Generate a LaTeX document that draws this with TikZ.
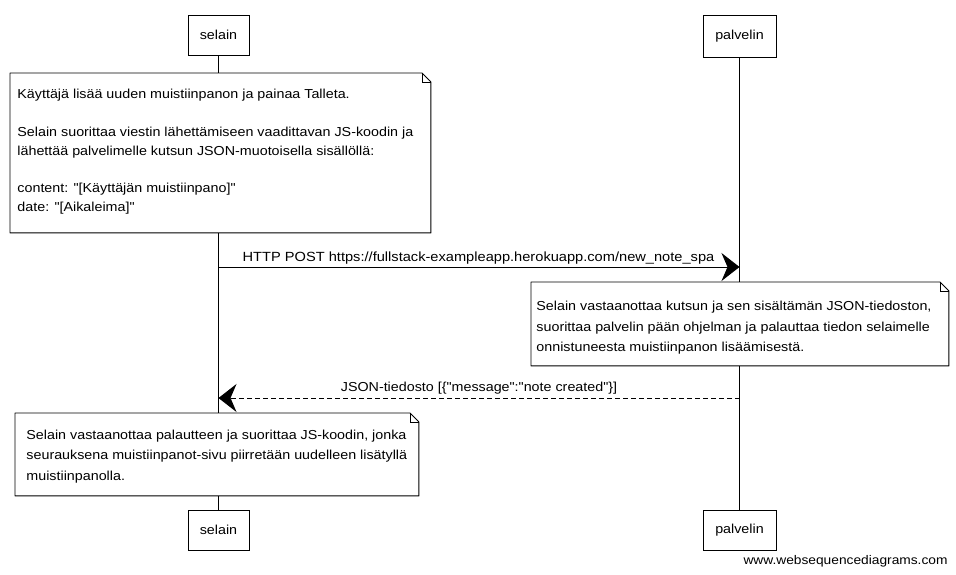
\documentclass[tikz,border=0pt]{standalone}
\usepackage{fontspec}
\setmainfont{Liberation Sans}[FakeStretch=1.1,Ligatures=TeXOff]
\usetikzlibrary{arrows.meta}
\begin{document}
\begin{tikzpicture}[x=1pt,y=-1pt,line width=0.9pt,
  font=\fontsize{13}{19}\selectfont,
  actor/.style={draw,fill=white,inner sep=0pt,minimum height=40pt},
  notearea/.style={inner sep=0pt,anchor=north west},
  noteline/.style={draw,fill=white,line join=round},
  notetext/.style={anchor=base west,inner sep=0pt},
  lifeline/.style={line width=0.8pt},
  msg/.style={line width=0.9pt,-{Stealth[length=18pt,width=28pt,inset=6pt]}},
  reply/.style={msg,dash pattern=on 5pt off 3pt},
  lbl/.style={anchor=base,inner sep=0pt}]
\useasboundingbox (0,0) rectangle (956,574);

% actors
\node[actor,minimum width=61pt] (selTop) at (218.5,35) {selain};
\node[actor,minimum width=73pt,minimum height=42pt] (palTop) at (739.5,36) {palvelin};
\node[actor,minimum width=61pt] (selBot) at (218.5,530) {selain};
\node[actor,minimum width=73pt] (palBot) at (739.5,530) {palvelin};

% lifelines
\draw[lifeline] (selTop.south) -- (selBot.north);
\draw[lifeline] (palTop.south) -- (palBot.north);

% note 1
\node[notearea,minimum width=420pt,minimum height=159pt] (n1) at (10,73) {};
\draw[noteline] (n1.north west) -- ([xshift=-9pt]n1.north east) -- ([yshift=-9pt]n1.north east) -- (n1.south east) -- (n1.south west) -- cycle;
\draw[line width=0.6pt] ([xshift=-9pt]n1.north east) -- ([xshift=-9pt,yshift=-9pt]n1.north east) -- ([yshift=-9pt]n1.north east);
\node[notetext] (t1) at (17,98) {\parbox[t]{410pt}{Käyttäjä lisää uuden muistiinpanon ja painaa Talleta.\\[19pt]
Selain suorittaa viestin lähettämiseen vaadittavan JS-koodin ja\\
lähettää palvelimelle kutsun JSON-muotoisella sisällöllä:\\[18pt]
content: "[Käyttäjän muistiinpano]"\\
date: "[Aikaleima]"}};

% message 1
\coordinate (m1s) at (selTop.south |- 0,267);
\coordinate (m1e) at (palTop.south |- 0,267);
\draw[msg] (m1s) -- (m1e);
\node[lbl,font=\fontsize{13.3}{19}\selectfont] (l1) at (478.5,261.5) {HTTP POST https://fullstack-exampleapp.herokuapp.com/new\_note\_spa};

% note 2
\node[notearea,minimum width=417pt,minimum height=83pt] (n2) at (531,282) {};
\draw[noteline] (n2.north west) -- ([xshift=-9pt]n2.north east) -- ([yshift=-9pt]n2.north east) -- (n2.south east) -- (n2.south west) -- cycle;
\draw[line width=0.6pt] ([xshift=-9pt]n2.north east) -- ([xshift=-9pt,yshift=-9pt]n2.north east) -- ([yshift=-9pt]n2.north east);
\node[notetext,font=\fontsize{13}{20.5}\selectfont] (t2) at (536,310.5) {\parbox[t]{410pt}{Selain vastaanottaa kutsun ja sen sisältämän JSON-tiedoston,\\
suorittaa palvelin pään ohjelman ja palauttaa tiedon selaimelle\\
onnistuneesta muistiinpanon lisäämisestä.}};

% message 2
\coordinate (m2s) at (palTop.south |- 0,398);
\coordinate (m2e) at (selTop.south |- 0,398);
\draw[reply] (m2s) -- (m2e);
\node[lbl] (l2) at (479,391.5) {JSON-tiedosto [\{"message":"note created"\}]};

% note 3
\node[notearea,minimum width=403pt,minimum height=82pt] (n3) at (15,413) {};
\draw[noteline] (n3.north west) -- ([xshift=-9pt]n3.north east) -- ([yshift=-9pt]n3.north east) -- (n3.south east) -- (n3.south west) -- cycle;
\draw[line width=0.6pt] ([xshift=-9pt]n3.north east) -- ([xshift=-9pt,yshift=-9pt]n3.north east) -- ([yshift=-9pt]n3.north east);
\node[notetext,font=\fontsize{13}{20.5}\selectfont] (t3) at (26,439) {\parbox[t]{390pt}{Selain vastaanottaa palautteen ja suorittaa JS-koodin, jonka\\
seurauksena muistiinpanot-sivu piirretään uudelleen lisätyllä\\
muistiinpanolla.}};

% watermark
\node[anchor=base east,inner sep=0pt,font=\fontsize{12.5}{15}\selectfont] (wm) at (948,564) {www.websequencediagrams.com};
\end{tikzpicture}
\end{document}
